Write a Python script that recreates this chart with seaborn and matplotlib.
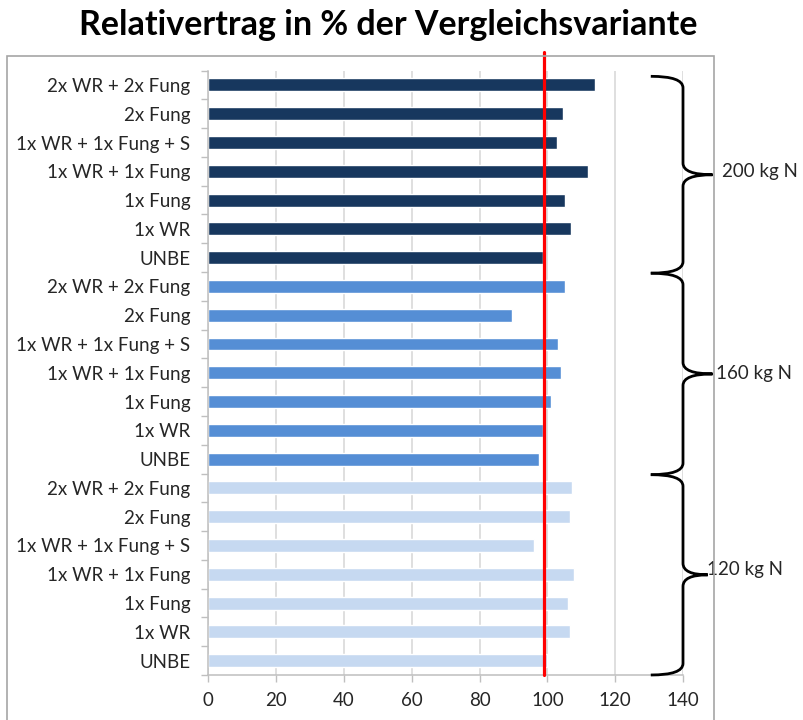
import numpy as np
import pandas as pd
import matplotlib
matplotlib.use("Agg")
import matplotlib.pyplot as plt
from matplotlib.path import Path
from matplotlib.patches import PathPatch, Rectangle
import seaborn as sns

# ---------------- data ----------------
groups = ["200 kg N", "160 kg N", "120 kg N"]
treatments = ["2x WR + 2x Fung", "2x Fung", "1x WR + 1x Fung + S",
              "1x WR + 1x Fung", "1x Fung", "1x WR", "UNBE"]
values_200 = [113.9, 104.6, 102.9, 111.9, 105.2, 106.9, 98.7]
values_160 = [105.1, 89.5, 103.2, 104.1, 101.0, 98.7, 97.6]
values_120 = [107.4, 106.7, 96.2, 107.8, 106.1, 106.8, 99.8]
reference_value = 99
x_ticks = [0, 20, 40, 60, 80, 100, 120, 140]
title = "Relativertrag in % der Vergleichsvariante"

group_colors = ["#17375E", "#558ED5", "#C6D9F1"]

rows = []
for g, vals in zip(groups, [values_200, values_160, values_120]):
    for t, v in zip(treatments, vals):
        rows.append({"row": f"{g}|{t}", "group": g, "treatment": t, "value": v})
df = pd.DataFrame(rows)

# ---------------- figure ----------------
sns.set_theme(style="white")
plt.rcParams["font.family"] = ["Lato", "DejaVu Sans"]

fig = plt.figure(figsize=(8.04, 7.2), dpi=100)
ax = fig.add_axes([0.2591, 0.0625, 0.5904, 0.8395])

sns.barplot(data=df, x="value", y="row", hue="group", palette=group_colors,
            dodge=False, width=0.45, legend=False, ax=ax, saturation=1)

ax.set_xlim(x_ticks[0], x_ticks[-1])
n = len(df)
ax.set_ylim(n - 0.5, -0.5)
ax.set_xticks(x_ticks)
ax.set_xticklabels([str(t) for t in x_ticks], fontsize=13.5, color="#262626")
ax.set_yticks(range(n))
ax.set_yticklabels(df["treatment"], fontsize=13.5, color="#262626")
ax.set_yticks(np.arange(-0.5, n, 1.0), minor=True)
ax.tick_params(axis="y", which="major", length=0, pad=13)
ax.tick_params(axis="y", which="minor", length=5, color="#BFBFBF", width=1, direction="out", left=True)
ax.tick_params(axis="x", which="major", length=5, color="#BFBFBF", width=1, direction="out", pad=7, bottom=True)
ax.set_xlabel("")
ax.set_ylabel("")

ax.grid(axis="x", color="#D9D9D9", linewidth=1.2)
ax.set_axisbelow(True)
for s in ["top", "right"]:
    ax.spines[s].set_visible(False)
for s in ["left", "bottom"]:
    ax.spines[s].set_color("#BFBFBF")
    ax.spines[s].set_linewidth(1.1)

# reference line
ax.axvline(reference_value, ymin=0, ymax=1.03, color="red", linewidth=2.3, clip_on=False, zorder=5)

# braces
def brace(ax, top, bot, mid, x0, xv, xt, r):
    verts = [(x0, top), (xv, top), (xv, top + r),
             (xv, mid - r),
             (xv, mid), (xt, mid),
             (xv, mid), (xv, mid + r),
             (xv, bot - r),
             (xv, bot), (x0, bot)]
    codes = [Path.MOVETO, Path.CURVE3, Path.CURVE3,
             Path.LINETO,
             Path.CURVE3, Path.CURVE3,
             Path.CURVE3, Path.CURVE3,
             Path.LINETO,
             Path.CURVE3, Path.CURVE3]
    p = PathPatch(Path(verts, codes), facecolor="none", edgecolor="black",
                  linewidth=2.0, clip_on=False, zorder=6)
    ax.add_patch(p)

label_x = [151.5, 149.6, 147.0]
label_dy = [-0.1, 0.0, -0.2]
ng = len(treatments)
for i, g in enumerate(groups):
    first = i * ng
    last = first + ng - 1
    top = first - 0.3 if i == 0 else first - 0.46
    bot = last + 0.5 if i == len(groups) - 1 else last + 0.54
    mid = (top + bot) / 2
    tip = 148.7 if i < 2 else 147.3
    brace(ax, top, bot, mid, 130.5, 140, tip, 0.4)
    ax.text(label_x[i], mid + label_dy[i], g, fontsize=13.5, color="#262626",
            ha="left", va="center", clip_on=False, zorder=7)

# title
fig.text(0.483, 0.965, title, ha="center", va="center", fontsize=24.5,
         fontweight="bold", color="black")

# outer frame
fig.patches.append(Rectangle((7 / 804, -0.05), (714 - 7) / 804, 1.05 - 56 / 720,
                             transform=fig.transFigure, fill=False,
                             edgecolor="#A6A6A6", linewidth=1.2, zorder=0))

fig.savefig("out.png", dpi=100)
